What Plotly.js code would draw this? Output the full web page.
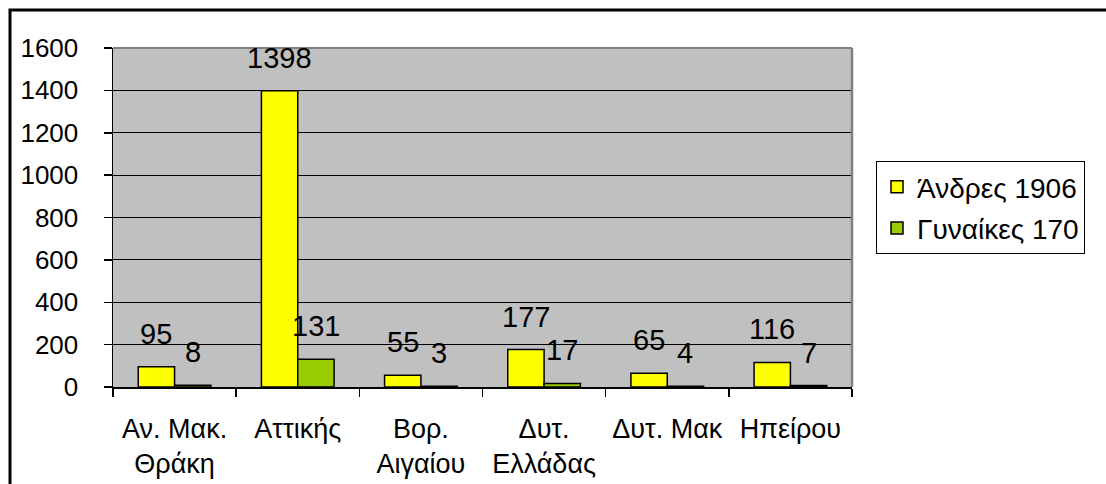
<!DOCTYPE html>
<html><head><meta charset="utf-8">
<script src="https://cdn.plot.ly/plotly-3.0.1.min.js"></script>
<style>html,body{margin:0;padding:0;background:#fff;}#chart{width:1106px;height:484px;}</style>
</head><body><div id="chart"></div>
<script>
const categories = ["Αν. Μακ.<br>Θράκη", "Αττικής", "Βορ.<br>Αιγαίου", "Δυτ.<br>Ελλάδας", "Δυτ. Μακ", "Ηπείρου"];
const men = [95, 1398, 55, 177, 65, 116];
const women = [8, 131, 3, 17, 4, 7];
const seriesNames = ["Άνδρες 1906", "Γυναίκες 170"];
const yTicks = [0, 200, 400, 600, 800, 1000, 1200, 1400, 1600];

const FONT = "Liberation Sans, Arial, sans-serif";
const bargap = 0.41;
const half = (1 - bargap) / 4;

const traces = [
  {type:'bar', name:seriesNames[0], x:categories, y:men, legendgroup:'a',
   marker:{color:'#FFFF00', line:{color:'#000', width:1.5}}, hoverinfo:'skip'},
  {type:'bar', name:seriesNames[1], x:categories, y:women, legendgroup:'b',
   marker:{color:'#99CC00', line:{color:'#000', width:1.5}}, hoverinfo:'skip'}
];

const annotations = [];
men.forEach((v,i)=>annotations.push({x:i-half, y:v, xref:'x', yref:'y', text:String(v), showarrow:false,
  yanchor:'bottom', yshift:15, font:{family:FONT, size:29, color:'#000'}}));
women.forEach((v,i)=>annotations.push({x:i+half, y:v, xref:'x', yref:'y', text:String(v), showarrow:false,
  yanchor:'bottom', yshift:15, font:{family:FONT, size:29, color:'#000'}}));

const plotL=113, plotR=852, plotT=48, plotB=387, W=1106, H=484;
const pw=plotR-plotL, ph=plotB-plotT;
const px=(X)=>(X-plotL)/pw, py=(Y)=>(plotB-Y)/ph;

const layout = {
  width:W, height:H,
  margin:{l:plotL, r:W-plotR, t:plotT, b:H-plotB, pad:0},
  paper_bgcolor:'#fff', plot_bgcolor:'#C0C0C0',
  barmode:'group', bargap:bargap, bargroupgap:0,
  font:{family:FONT, color:'#000'},
  showlegend:true,
  legend:{x:px(876), y:py(161), xanchor:'left', yanchor:'top', bgcolor:'#fff',
    bordercolor:'#000', borderwidth:1, font:{family:FONT, size:28, color:'#000'},
    traceorder:'grouped', tracegroupgap:2, itemwidth:30},
  xaxis:{type:'category', showline:true, linecolor:'#000', linewidth:1.5, ticks:'outside',
    tickson:'boundaries', ticklen:8, tickcolor:'#000', tickwidth:1.5, showgrid:false,
    tickfont:{family:FONT, size:27, color:'#000'}, ticklabelstandoff:17, fixedrange:true},
  yaxis:{range:[0,1600], tickvals:yTicks, ticktext:yTicks.map(String), showline:true, linecolor:'#000', linewidth:1.5,
    ticks:'outside', ticklen:8, tickcolor:'#000', tickwidth:1.5, showgrid:true, gridcolor:'#000', gridwidth:1,
    zeroline:false, tickfont:{family:FONT, size:26, color:'#000'}, ticklabelstandoff:20, fixedrange:true},
  annotations:annotations,
  shapes:[
    {type:'line', xref:'paper', yref:'paper', x0:0, x1:1, y0:1, y1:1, line:{color:'#808080', width:2}},
    {type:'line', xref:'paper', yref:'paper', x0:1, x1:1, y0:0, y1:1, line:{color:'#808080', width:2.5}},
    {type:'rect', xref:'paper', yref:'paper', x0:px(10), x1:px(1115), y0:py(495), y1:py(10), line:{color:'#000', width:3}, fillcolor:'rgba(0,0,0,0)'}
  ]
};
Plotly.newPlot('chart', traces, layout, {displayModeBar:false, staticPlot:true});
</script></body></html>
